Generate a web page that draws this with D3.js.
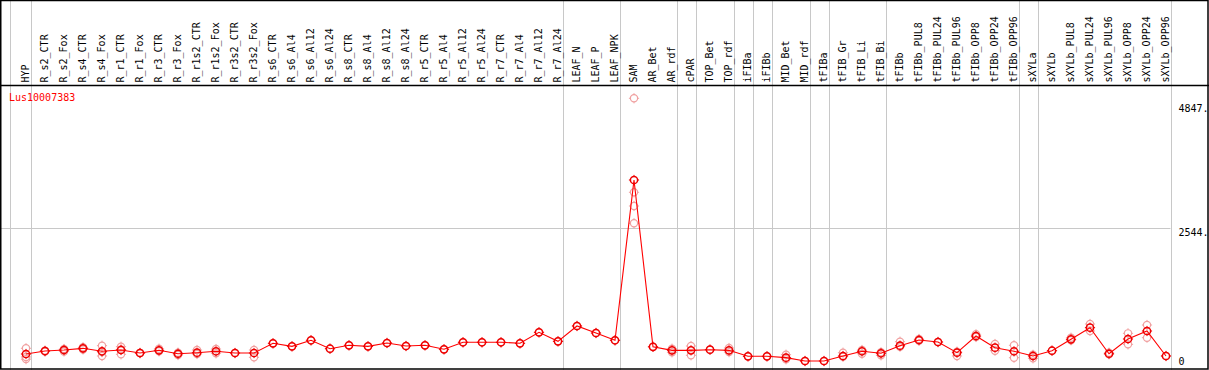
<!DOCTYPE html>
<html>
<head>
<meta charset="utf-8">
<script src="https://cdn.jsdelivr.net/npm/d3@7/dist/d3.min.js"></script>
<style>
  html, body { margin: 0; padding: 0; background: #fff; }
  svg { display: block; }
  text { font-family: "DejaVu Sans Mono", "Liberation Mono", monospace; font-size: 10px; }
</style>
</head>
<body>
<svg id="chart" width="1209" height="370"></svg>
<script>
const categories = ["HYP","R_s2_CTR","R_s2_Fox","R_s4_CTR","R_s4_Fox","R_r1_CTR","R_r1_Fox","R_r3_CTR","R_r3_Fox",
  "R_r1s2_CTR","R_r1s2_Fox","R_r3s2_CTR","R_r3s2_Fox","R_s6_CTR","R_s6_Al4","R_s6_Al12","R_s6_Al24",
  "R_s8_CTR","R_s8_Al4","R_s8_Al12","R_s8_Al24","R_r5_CTR","R_r5_Al4","R_r5_Al12","R_r5_Al24",
  "R_r7_CTR","R_r7_Al4","R_r7_Al12","R_r7_Al24","LEAF_N","LEAF_P","LEAF_NPK","SAM","AR_Bet","AR_rdf",
  "cPAR","TOP_Bet","TOP_rdf","iFIBa","iFIBb","MID_Bet","MID_rdf","tFIBa","tFIB_Gr","tFIB_Li","tFIB_Bi",
  "tFIBb","tFIBb_PUL8","tFIBb_PUL24","tFIBb_PUL96","tFIBb_OPP8","tFIBb_OPP24","tFIBb_OPP96",
  "sXYLa","sXYLb","sXYLb_PUL8","sXYLb_PUL24","sXYLb_PUL96","sXYLb_OPP8","sXYLb_OPP24","sXYLb_OPP96"];

const meanValues = [215,270,289,320,265,289,233,283,220,239,265,233,233,413,357,469,313,376,357,419,363,
  376,302,432,432,432,413,617,450,734,604,469,3439,348,283,283,295,283,172,172,147,85,85,178,265,228,
  369,474,437,239,548,332,265,178,276,487,703,220,493,641,178];

const replicates = [[321,160,120],[275,262],[307,289,262],[339,300],[369,178,250],[350,209,300],[233,233],
  [313,265],[239,196],[289,215],[307,228],[233],[289,154],[413],[357],[469],[313],[376],[357],[419],[363],
  [376],[302],[432],[432],[432],[413],[617],[450],[734],[604],[469],[4953,3211,2957,2637],[348],[313,246],
  [363,191],[295],[326,250],[172],[172],[202,117],[85],[85],[239,165],[289,220],[246,190],
  [443,350],[493,460],[437],[178,258],[580,530],[400,276],[376,146],[135,200],[276],[517,470],
  [771,641],[239,210],[598,394],[752,517],[178]];

const groupEnds = ["HYP","R_r7_Al24","LEAF_NPK","AR_rdf","cPAR","TOP_rdf","iFIBa","iFIBb","MID_rdf","tFIBa",
  "tFIB_Bi","tFIBb_OPP96","sXYLa","sXYLb_OPP96"];

const yTicks = [4847, 2544, 0];
const yTickLabels = ["4847.", "2544.", "0"];
const seriesName = "Lus10007383";

const W = 1209, H = 370, headerY = 85.5;
const svg = d3.select("#chart");

const x = d3.scalePoint().domain(categories).range([26, 1166]);
const y = d3.scaleLinear().domain([0, 4847]).range([365.6, 104]);

// vertical grid lines
const vlines = [10.5].concat(groupEnds.map(c => Math.round(x(c) + 4.5) + 0.5));
svg.append("g").selectAll("line").data(vlines).join("line")
  .attr("x1", d => d).attr("x2", d => d).attr("y1", 0).attr("y2", H)
  .attr("stroke", "#c8c8c8").attr("stroke-width", 1);

// horizontal grid line at middle tick
svg.append("line")
  .attr("x1", 1).attr("x2", 1170.5)
  .attr("y1", Math.round(y(2544)) + 0.5).attr("y2", Math.round(y(2544)) + 0.5)
  .attr("stroke", "#c8c8c8");

// frame
svg.append("rect").attr("x", 0.75).attr("y", 0.5).attr("width", W - 1.75).attr("height", H - 1.5)
  .attr("fill", "none").attr("stroke", "#000").attr("stroke-width", 1.5);
svg.append("line").attr("x1", 0).attr("x2", W).attr("y1", headerY).attr("y2", headerY)
  .attr("stroke", "#000").attr("stroke-width", 1.3);

// header labels
svg.append("g").selectAll("text").data(categories).join("text")
  .attr("transform", d => `translate(${x(d) + 3},${headerY - 3}) rotate(-90)`)
  .attr("text-anchor", "start")
  .attr("fill", "#000")
  .text(d => d);

// y tick labels
svg.append("g").selectAll("text").data(yTicks).join("text")
  .attr("x", 1178.5)
  .attr("y", (d, i) => i === yTicks.length - 1 ? y(d) - 0.5 : y(d) + 7.8)
  .attr("text-anchor", "start")
  .attr("fill", "#000")
  .text((d, i) => yTickLabels[i]);

// series name
svg.append("text").attr("x", 9).attr("y", 101).attr("fill", "#ff0000").text(seriesName);

function marker(g, cx, cy, color, sw) {
  const r = 3.6;
  g.append("circle").attr("cx", cx).attr("cy", cy).attr("r", r)
    .attr("fill", "none").attr("stroke", color).attr("stroke-width", sw);
  [[0,-1],[0,1],[-1,0],[1,0]].forEach(([dx, dy]) => {
    g.append("line")
      .attr("x1", cx + dx * r).attr("y1", cy + dy * r)
      .attr("x2", cx + dx * (r + 1.5)).attr("y2", cy + dy * (r + 1.5))
      .attr("stroke", color).attr("stroke-width", 1);
  });
}

// replicate markers
const repG = svg.append("g");
categories.forEach((c, i) => {
  replicates[i].forEach(v => marker(repG, x(c), y(v), "#f0a0a0", 1.2));
});

// mean line
svg.append("path")
  .datum(categories.map((c, i) => [x(c), y(meanValues[i])]))
  .attr("d", d3.line())
  .attr("fill", "none").attr("stroke", "#ff0000").attr("stroke-width", 1.1);

// mean markers
const meanG = svg.append("g");
categories.forEach((c, i) => marker(meanG, x(c), y(meanValues[i]), "#ee0000", 1.5));
</script>
</body>
</html>
